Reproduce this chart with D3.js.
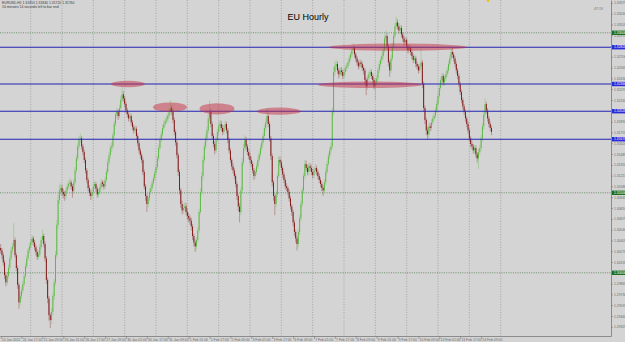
<!DOCTYPE html>
<html>
<head>
<meta charset="utf-8">
<script src="https://cdn.jsdelivr.net/npm/d3@7"></script>
<style>
  html, body { margin: 0; padding: 0; background: #d4d4d4; overflow: hidden; }
  text { font-family: "Liberation Sans", Arial, sans-serif; }
</style>
</head>
<body>
<div id="chart"></div>
<script>
// EURUSD H1, 24 Jan 2012 01:00 -> 14 Feb 2012 (open of the first bar, then closes / highs / lows)
const firstOpen = 1.3031;
const closes = [
  1.3028,1.3022,1.3013,1.2997,1.2988,1.2996,1.3006,1.3018,1.3028,1.3033,1.3041,1.3022,1.3006,1.2985,1.2963,1.2971,
  1.2978,1.2986,1.2996,1.3008,1.3018,1.3028,1.3033,1.3038,1.3043,1.3038,1.3032,1.3026,1.3020,1.3023,1.3032,1.3041,
  1.3046,1.3036,1.3018,1.2991,1.2968,1.2947,1.2941,1.2951,1.2971,1.2988,1.3022,1.3060,1.3091,1.3103,1.3106,1.3101,
  1.3098,1.3096,1.3103,1.3108,1.3111,1.3113,1.3108,1.3102,1.3113,1.3128,1.3143,1.3158,1.3166,1.3168,1.3158,1.3151,
  1.3141,1.3128,1.3116,1.3106,1.3100,1.3096,1.3101,1.3108,1.3111,1.3105,1.3098,1.3101,1.3107,1.3113,1.3111,1.3108,
  1.3116,1.3126,1.3138,1.3147,1.3156,1.3158,1.3172,1.3186,1.3198,1.3201,1.3196,1.3206,1.3216,1.3223,1.3218,1.3211,
  1.3203,1.3198,1.3193,1.3196,1.3188,1.3182,1.3178,1.3180,1.3171,1.3162,1.3153,1.3147,1.3141,1.3126,1.3108,1.3096,
  1.3086,1.3093,1.3101,1.3106,1.3112,1.3118,1.3125,1.3132,1.3143,1.3156,1.3166,1.3173,1.3181,1.3186,1.3190,1.3192,
  1.3196,1.3201,1.3206,1.3201,1.3191,1.3176,1.3163,1.3147,1.3126,1.3103,1.3086,1.3078,1.3081,1.3083,1.3076,1.3071,
  1.3068,1.3065,1.3058,1.3046,1.3038,1.3033,1.3041,1.3053,1.3076,1.3101,1.3121,1.3141,1.3158,1.3168,1.3178,1.3193,
  1.3201,1.3186,1.3171,1.3161,1.3153,1.3166,1.3176,1.3183,1.3186,1.3181,1.3176,1.3181,1.3186,1.3178,1.3166,1.3153,
  1.3141,1.3133,1.3128,1.3121,1.3111,1.3096,1.3083,1.3076,1.3103,1.3138,1.3156,1.3166,1.3158,1.3151,1.3146,1.3141,
  1.3136,1.3128,1.3121,1.3126,1.3133,1.3141,1.3148,1.3156,1.3163,1.3171,1.3181,1.3188,1.3196,1.3186,1.3168,1.3146,
  1.3113,1.3096,1.3086,1.3098,1.3121,1.3141,1.3138,1.3131,1.3123,1.3116,1.3108,1.3106,1.3101,1.3093,1.3083,1.3076,
  1.3063,1.3051,1.3043,1.3036,1.3051,1.3068,1.3086,1.3103,1.3121,1.3136,1.3131,1.3126,1.3133,1.3131,1.3126,1.3122,
  1.3128,1.3131,1.3126,1.3121,1.3116,1.3111,1.3106,1.3103,1.3113,1.3126,1.3136,1.3146,1.3153,1.3158,1.3201,1.3251,
  1.3258,1.3261,1.3253,1.3248,1.3253,1.3251,1.3246,1.3251,1.3256,1.3258,1.3263,1.3268,1.3273,1.3278,1.3281,1.3273,
  1.3268,1.3263,1.3258,1.3263,1.3261,1.3256,1.3253,1.3241,1.3233,1.3243,1.3248,1.3251,1.3246,1.3241,1.3233,1.3238,
  1.3243,1.3253,1.3261,1.3266,1.3271,1.3278,1.3293,1.3296,1.3283,1.3263,1.3253,1.3268,1.3283,1.3296,1.3308,1.3313,
  1.3308,1.3303,1.3306,1.3298,1.3293,1.3288,1.3291,1.3283,1.3278,1.3281,1.3276,1.3271,1.3266,1.3268,1.3261,1.3258,
  1.3253,1.3258,1.3263,1.3236,1.3206,1.3191,1.3178,1.3173,1.3183,1.3181,1.3188,1.3193,1.3196,1.3203,1.3211,1.3221,
  1.3231,1.3241,1.3246,1.3238,1.3243,1.3248,1.3253,1.3261,1.3268,1.3276,1.3273,1.3268,1.3261,1.3253,1.3246,1.3236,
  1.3226,1.3216,1.3208,1.3201,1.3193,1.3186,1.3178,1.3168,1.3161,1.3158,1.3153,1.3156,1.3148,1.3143,1.3151,1.3156,
  1.3168,1.3183,1.3198,1.3211,1.3203,1.3193,1.3186,1.3181,1.3176
];
const highs = [
  1.3036,1.3031,1.3025,1.3016,1.3000,1.3001,1.3010,1.3021,1.3032,1.3037,1.3062,1.3044,1.3025,1.3009,1.2988,1.2976,
  1.2982,1.2990,1.3000,1.3012,1.3022,1.3031,1.3037,1.3042,1.3047,1.3046,1.3041,1.3035,1.3029,1.3027,1.3036,1.3045,
  1.3054,1.3049,1.3039,1.3021,1.2994,1.2971,1.2950,1.2956,1.2975,1.2992,1.3027,1.3066,1.3098,1.3110,1.3112,1.3110,
  1.3105,1.3102,1.3107,1.3112,1.3115,1.3118,1.3116,1.3111,1.3117,1.3132,1.3147,1.3162,1.3171,1.3174,1.3171,1.3161,
  1.3154,1.3144,1.3131,1.3119,1.3109,1.3104,1.3105,1.3112,1.3115,1.3114,1.3108,1.3105,1.3111,1.3117,1.3116,1.3114,
  1.3120,1.3130,1.3142,1.3151,1.3160,1.3163,1.3176,1.3190,1.3202,1.3206,1.3204,1.3210,1.3221,1.3232,1.3227,1.3221,
  1.3214,1.3206,1.3201,1.3200,1.3199,1.3191,1.3185,1.3184,1.3183,1.3174,1.3165,1.3156,1.3150,1.3144,1.3129,1.3111,
  1.3099,1.3097,1.3105,1.3110,1.3116,1.3122,1.3129,1.3136,1.3147,1.3160,1.3170,1.3177,1.3185,1.3190,1.3194,1.3197,
  1.3200,1.3205,1.3216,1.3209,1.3204,1.3194,1.3179,1.3166,1.3150,1.3129,1.3106,1.3090,1.3086,1.3088,1.3087,1.3080,
  1.3075,1.3072,1.3069,1.3061,1.3049,1.3042,1.3045,1.3057,1.3080,1.3106,1.3126,1.3146,1.3163,1.3173,1.3183,1.3198,
  1.3216,1.3205,1.3189,1.3174,1.3164,1.3170,1.3180,1.3187,1.3191,1.3190,1.3185,1.3185,1.3190,1.3189,1.3181,1.3169,
  1.3156,1.3144,1.3137,1.3131,1.3124,1.3114,1.3099,1.3087,1.3107,1.3143,1.3161,1.3172,1.3170,1.3161,1.3155,1.3150,
  1.3145,1.3139,1.3131,1.3130,1.3137,1.3145,1.3152,1.3160,1.3167,1.3175,1.3185,1.3192,1.3206,1.3199,1.3189,1.3171,
  1.3149,1.3116,1.3099,1.3102,1.3125,1.3146,1.3145,1.3141,1.3134,1.3126,1.3119,1.3112,1.3109,1.3104,1.3096,1.3086,
  1.3079,1.3066,1.3054,1.3046,1.3055,1.3072,1.3090,1.3107,1.3125,1.3141,1.3140,1.3135,1.3137,1.3137,1.3135,1.3130,
  1.3132,1.3136,1.3134,1.3129,1.3124,1.3119,1.3114,1.3109,1.3117,1.3130,1.3140,1.3150,1.3157,1.3163,1.3206,1.3258,
  1.3264,1.3266,1.3264,1.3256,1.3257,1.3257,1.3254,1.3255,1.3260,1.3262,1.3267,1.3272,1.3277,1.3283,1.3287,1.3284,
  1.3276,1.3271,1.3266,1.3267,1.3266,1.3264,1.3259,1.3256,1.3244,1.3247,1.3252,1.3255,1.3254,1.3249,1.3244,1.3242,
  1.3247,1.3257,1.3265,1.3270,1.3275,1.3282,1.3297,1.3303,1.3299,1.3286,1.3266,1.3272,1.3287,1.3300,1.3312,1.3320,
  1.3317,1.3312,1.3310,1.3309,1.3301,1.3296,1.3295,1.3294,1.3286,1.3285,1.3284,1.3279,1.3274,1.3272,1.3271,1.3264,
  1.3261,1.3262,1.3280,1.3266,1.3239,1.3209,1.3194,1.3182,1.3187,1.3187,1.3192,1.3197,1.3200,1.3207,1.3215,1.3225,
  1.3235,1.3245,1.3250,1.3249,1.3247,1.3252,1.3257,1.3265,1.3272,1.3280,1.3282,1.3276,1.3271,1.3264,1.3256,1.3249,
  1.3239,1.3229,1.3219,1.3211,1.3204,1.3196,1.3189,1.3181,1.3171,1.3165,1.3161,1.3160,1.3159,1.3151,1.3155,1.3160,
  1.3172,1.3187,1.3202,1.3218,1.3214,1.3206,1.3196,1.3189,1.3184
];
const lows = [
  1.3024,1.3017,1.3009,1.2992,1.2983,1.2985,1.2993,1.3003,1.3015,1.3024,1.3030,1.3019,1.3002,1.2980,1.2955,1.2959,
  1.2967,1.2975,1.2983,1.2993,1.3005,1.3015,1.3024,1.3030,1.3035,1.3034,1.3028,1.3022,1.3016,1.3017,1.3020,1.3029,
  1.3038,1.3032,1.3014,1.2986,1.2962,1.2940,1.2931,1.2936,1.2947,1.2966,1.2984,1.3018,1.3055,1.3086,1.3098,1.3096,
  1.3093,1.3090,1.3092,1.3100,1.3104,1.3107,1.3104,1.3094,1.3099,1.3110,1.3125,1.3140,1.3154,1.3162,1.3154,1.3147,
  1.3137,1.3124,1.3112,1.3102,1.3096,1.3091,1.3092,1.3098,1.3105,1.3101,1.3094,1.3095,1.3098,1.3104,1.3107,1.3104,
  1.3105,1.3113,1.3123,1.3134,1.3143,1.3151,1.3155,1.3169,1.3183,1.3194,1.3191,1.3193,1.3203,1.3213,1.3214,1.3207,
  1.3199,1.3194,1.3189,1.3190,1.3184,1.3178,1.3174,1.3175,1.3167,1.3158,1.3149,1.3143,1.3137,1.3122,1.3104,1.3090,
  1.3076,1.3082,1.3090,1.3098,1.3103,1.3109,1.3115,1.3122,1.3129,1.3140,1.3153,1.3163,1.3170,1.3178,1.3183,1.3187,
  1.3188,1.3193,1.3198,1.3197,1.3187,1.3172,1.3159,1.3143,1.3121,1.3098,1.3081,1.3073,1.3074,1.3077,1.3072,1.3066,
  1.3063,1.3060,1.3053,1.3041,1.3033,1.3026,1.3029,1.3038,1.3050,1.3073,1.3097,1.3117,1.3137,1.3154,1.3164,1.3174,
  1.3189,1.3182,1.3167,1.3157,1.3148,1.3150,1.3163,1.3173,1.3179,1.3177,1.3172,1.3173,1.3178,1.3174,1.3162,1.3149,
  1.3137,1.3129,1.3124,1.3117,1.3107,1.3091,1.3077,1.3063,1.3072,1.3099,1.3134,1.3152,1.3154,1.3147,1.3142,1.3137,
  1.3132,1.3124,1.3116,1.3118,1.3123,1.3130,1.3138,1.3145,1.3153,1.3160,1.3168,1.3178,1.3185,1.3182,1.3164,1.3141,
  1.3108,1.3090,1.3072,1.3082,1.3095,1.3118,1.3134,1.3127,1.3119,1.3112,1.3104,1.3102,1.3097,1.3089,1.3079,1.3071,
  1.3058,1.3046,1.3038,1.3028,1.3032,1.3047,1.3064,1.3082,1.3099,1.3117,1.3127,1.3122,1.3122,1.3127,1.3122,1.3118,
  1.3118,1.3124,1.3122,1.3117,1.3112,1.3107,1.3102,1.3096,1.3100,1.3110,1.3123,1.3133,1.3142,1.3149,1.3155,1.3197,
  1.3246,1.3254,1.3249,1.3243,1.3245,1.3247,1.3242,1.3243,1.3248,1.3252,1.3255,1.3260,1.3265,1.3270,1.3275,1.3269,
  1.3264,1.3259,1.3254,1.3255,1.3257,1.3252,1.3248,1.3236,1.3222,1.3229,1.3240,1.3245,1.3242,1.3237,1.3229,1.3216,
  1.3234,1.3240,1.3250,1.3257,1.3262,1.3268,1.3275,1.3289,1.3279,1.3258,1.3245,1.3250,1.3265,1.3280,1.3293,1.3305,
  1.3304,1.3299,1.3299,1.3294,1.3289,1.3284,1.3285,1.3279,1.3274,1.3275,1.3272,1.3267,1.3262,1.3263,1.3257,1.3254,
  1.3249,1.3250,1.3255,1.3231,1.3201,1.3186,1.3172,1.3166,1.3169,1.3177,1.3178,1.3185,1.3190,1.3193,1.3200,1.3208,
  1.3218,1.3228,1.3237,1.3234,1.3234,1.3240,1.3245,1.3250,1.3258,1.3265,1.3269,1.3264,1.3257,1.3249,1.3242,1.3232,
  1.3222,1.3212,1.3204,1.3197,1.3189,1.3182,1.3174,1.3164,1.3157,1.3154,1.3149,1.3149,1.3144,1.3138,1.3130,1.3147,
  1.3152,1.3164,1.3179,1.3194,1.3199,1.3189,1.3182,1.3177,1.3172
];

// time labels along the bottom, one every 16 bars
const dateLabels = ["24 Jan 2012","24 Jan 17:00","25 Jan 09:00","26 Jan 01:00","26 Jan 17:00","27 Jan 09:00",
  "30 Jan 01:00","30 Jan 17:00","31 Jan 09:00","1 Feb 01:00","1 Feb 17:00","2 Feb 09:00","3 Feb 01:00",
  "3 Feb 17:00","6 Feb 09:00","7 Feb 01:00","7 Feb 17:00","8 Feb 09:00","9 Feb 01:00","9 Feb 17:00",
  "10 Feb 09:00","13 Feb 01:00","13 Feb 17:00","14 Feb 09:00"];
const labelEvery = 16;

// support / resistance lines and round-number lines
const blueLevels = [1.3282, 1.3236, 1.3202, 1.3167];
const roundLevels = [1.3300, 1.3100, 1.3000];

// marked areas: centre bar, half width in bars, centre price, half height in price
const zones = [
  { bar: 97.5,  half: 13,   price: 1.3236, dp: 0.0004 },
  { bar: 129.7, half: 13,   price: 1.3207, dp: 0.0006 },
  { bar: 165.7, half: 13.4, price: 1.3205, dp: 0.0007 },
  { bar: 213.1, half: 16.8, price: 1.3202, dp: 0.00045 },
  { bar: 304.2, half: 52.8, price: 1.3282, dp: 0.00045 },
  { bar: 282.8, half: 39.8, price: 1.3235, dp: 0.0004 }
];

// price axis labels
const priceTop = 1.33375, priceStep = 0.00135, priceCount = 31;

function config(){
    let width = 625, height = 342;
    let plotW = 611, plotH = 336;
    let slots = 468;
    let svg = d3.select("#chart").append("svg")
        .attr("width", width).attr("height", height)
        .style("display", "block");
    svg.append("rect").attr("width", width).attr("height", height).attr("fill", "#d4d4d4");
    return { width, height, plotW, plotH, slots, svg };
}

function scales(cfg){
    let x = d3.scaleLinear().domain([-0.5, cfg.slots - 0.5]).range([0, cfg.plotW]);
    let y = d3.scaleLinear().domain([1.2921, 1.3341]).range([cfg.plotH, 0]);
    return { x, y };
}

function barTimes(n){
    let out = [];
    let t = Date.UTC(2012, 0, 24, 1);
    while (out.length < n) {
        let d = new Date(t).getUTCDay();
        if (d !== 0 && d !== 6) out.push(new Date(t));
        t += 3600e3;
    }
    return out;
}

function drawGrid(cfg, sc){
    let { svg, plotH } = cfg;
    let times = barTimes(384);
    let days = times.map((t, i) => ({ t, i })).filter(d => d.t.getUTCHours() === 0);
    svg.append("g").selectAll("line").data(days).enter().append("line")
        .attr("x1", d => sc.x(d.i)).attr("x2", d => sc.x(d.i))
        .attr("y1", 0).attr("y2", plotH)
        .attr("stroke", "#8f8f8f").attr("stroke-width", 0.7)
        .attr("stroke-dasharray", "1,1.6");

    svg.append("g").selectAll("line").data(roundLevels).enter().append("line")
        .attr("x1", 0).attr("x2", cfg.plotW)
        .attr("y1", d => sc.y(d)).attr("y2", d => sc.y(d))
        .attr("stroke", "#5e8a5e").attr("stroke-width", 0.9)
        .attr("stroke-dasharray", "1,1.3");
}

function drawCandles(cfg, sc){
    let bars = closes.map((c, i) => ({
        i, c, o: i ? closes[i - 1] : firstOpen, h: highs[i], l: lows[i]
    }));
    let up = "#56b93c", down = "#7d1010";
    let g = cfg.svg.append("g");
    g.selectAll(".wick").data(bars).enter().append("line")
        .attr("x1", d => sc.x(d.i)).attr("x2", d => sc.x(d.i))
        .attr("y1", d => sc.y(d.h)).attr("y2", d => sc.y(d.l))
        .attr("stroke", d => d.c >= d.o ? up : down)
        .attr("stroke-opacity", 0.55)
        .attr("stroke-width", 0.6);
    g.selectAll(".body").data(bars).enter().append("rect")
        .attr("x", d => sc.x(d.i) - 0.45)
        .attr("width", 0.9)
        .attr("y", d => sc.y(Math.max(d.o, d.c)))
        .attr("height", d => Math.max(0.6, Math.abs(sc.y(d.o) - sc.y(d.c))))
        .attr("fill", d => d.c >= d.o ? up : down);
}

function drawLevels(cfg, sc){
    let { svg, plotW } = cfg;
    svg.append("g").selectAll("line").data(blueLevels).enter().append("line")
        .attr("x1", 0).attr("x2", plotW)
        .attr("y1", d => sc.y(d)).attr("y2", d => sc.y(d))
        .attr("stroke", "#2323b4").attr("stroke-width", 1.1);

    svg.append("g").selectAll("ellipse").data(zones).enter().append("ellipse")
        .attr("cx", d => sc.x(d.bar))
        .attr("cy", d => sc.y(d.price))
        .attr("rx", d => sc.x(d.bar + d.half) - sc.x(d.bar))
        .attr("ry", d => sc.y(d.price - d.dp) - sc.y(d.price))
        .attr("fill", "rgb(198,48,68)")
        .attr("fill-opacity", 0.5);
}

function drawAxes(cfg, sc){
    let { svg, plotW, plotH } = cfg;
    let axisColor = "#7a7a7a";
    let ticks = d3.range(priceCount).map(k => priceTop - k * priceStep);

    let ay = svg.append("g").attr("transform", "translate(" + plotW + ",0)")
        .call(d3.axisRight(sc.y).tickValues(ticks).tickFormat(d3.format(".5f")).tickSize(2).tickSizeOuter(0));
    ay.select(".domain").attr("stroke", axisColor).attr("stroke-width", 0.8);
    ay.selectAll(".tick line").attr("stroke", axisColor).attr("stroke-width", 0.6);
    ay.selectAll(".tick text").attr("x", 3).attr("fill", "#6a6a6a")
        .style("font-size", "3.4px");

    let idx = dateLabels.map((d, i) => i * labelEvery);
    let ax = svg.append("g").attr("transform", "translate(0," + plotH + ")")
        .call(d3.axisBottom(sc.x).tickValues(idx).tickFormat((d, i) => dateLabels[i]).tickSize(3).tickSizeOuter(0));
    ax.select(".domain").attr("stroke", axisColor).attr("stroke-width", 0.8);
    ax.selectAll(".tick line").attr("stroke", axisColor).attr("stroke-width", 0.6);
    ax.selectAll(".tick text").attr("y", 2.2).attr("dy", "0.8em")
        .attr("dx", 0.7).attr("text-anchor", "start")
        .attr("fill", "#6a6a6a").style("font-size", "3.4px");

    // price boxes for the drawn lines
    let boxes = blueLevels.map(p => ({ p, fill: "#2a2ad6" }))
        .concat(roundLevels.map(p => ({ p, fill: "#1f6f1f" })));
    let bg = svg.append("g");
    bg.selectAll("rect").data(boxes).enter().append("rect")
        .attr("x", plotW + 1).attr("width", 14)
        .attr("y", d => sc.y(d.p) - 2.2).attr("height", 4.4)
        .attr("fill", d => d.fill);
    bg.selectAll("text").data(boxes).enter().append("text")
        .attr("x", plotW + 3).attr("y", d => sc.y(d.p) + 1.2)
        .attr("fill", "#ffffff").style("font-size", "3.4px")
        .text(d => d3.format(".5f")(d.p));
}

function drawTexts(cfg, sc){
    let { svg } = cfg;
    let last = closes.length - 1;
    let f = d3.format(".5f");
    svg.append("text").attr("x", 2).attr("y", 4.2)
        .attr("fill", "#3a3a3a").style("font-size", "3.4px")
        .text("EURUSD,H1  " + f(closes[last - 1]) + " " + f(highs[last]) + " " + f(lows[last]) + " " + f(closes[last]));
    svg.append("text").attr("x", 2).attr("y", 8)
        .attr("fill", "#3a3a3a").style("font-size", "3.4px")
        .text("10 minutes 14 seconds left to bar end");
    svg.append("text").attr("x", 603).attr("y", 9.5)
        .attr("text-anchor", "end")
        .attr("fill", "#707070").style("font-size", "3.6px")
        .text("47:19");
    svg.append("circle").attr("cx", 488).attr("cy", 0.8).attr("r", 1.3).attr("fill", "#e8c21a");

    svg.append("text").attr("x", 308).attr("y", 19.5)
        .attr("text-anchor", "middle")
        .attr("fill", "#000000").style("font-size", "9px")
        .text("EU Hourly");
}

let cfg = config();
let sc = scales(cfg);
drawGrid(cfg, sc);
drawCandles(cfg, sc);
drawLevels(cfg, sc);
drawAxes(cfg, sc);
drawTexts(cfg, sc);
</script>
</body>
</html>
